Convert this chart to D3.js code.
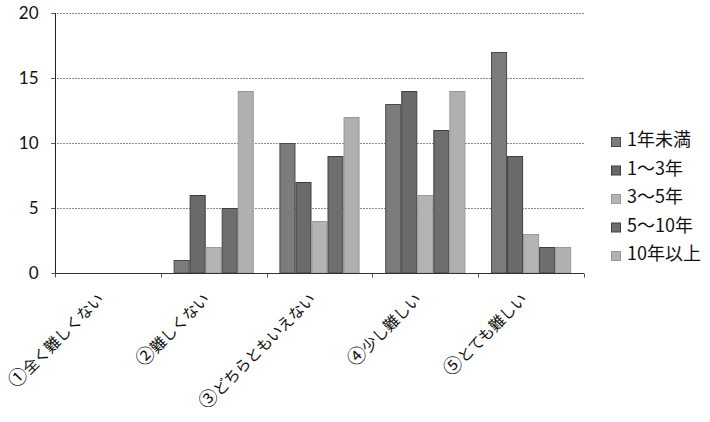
<!DOCTYPE html>
<html>
<head>
<meta charset="utf-8">
<script src="https://cdn.jsdelivr.net/npm/d3@7"></script>
<style>
  html, body { margin: 0; padding: 0; background: #fff; }
  svg { display: block; }
</style>
</head>
<body>
<svg id="chart" width="710" height="422"></svg>
<script>
// Answer categories (x axis)
const categories = ["①全く難しくない", "②難しくない", "③どちらともいえない", "④少し難しい", "⑤とても難しい"];
// Experience groups (legend)
const seriesNames = ["1年未満", "1～3年", "3～5年", "5～10年", "10年以上"];
// Counts per group, one array per series, in category order
const s1 = [0, 1, 10, 13, 17];
const s2 = [0, 6, 7, 14, 9];
const s3 = [0, 2, 4, 6, 3];
const s4 = [0, 5, 9, 11, 2];
const s5 = [0, 14, 12, 14, 2];
const seriesValues = [s1, s2, s3, s4, s5];
const yTicks = [0, 5, 10, 15, 20];

const fills = ["#7c7c7c", "#6a6a6a", "#b4b4b4", "#6e6e6e", "#b0b0b0"];
const strokes = ["#4a4a4a", "#3e3e3e", "#9a9a9a", "#404040", "#999999"];

const svg = d3.select("#chart");
const plot = { left: 55, right: 584, top: 13, bottom: 273 };

const x = d3.scaleBand().domain(categories).range([plot.left, plot.right]).paddingInner(0).paddingOuter(0);
const x1 = d3.scaleBand().domain(d3.range(seriesNames.length)).range([0, x.bandwidth()]).paddingOuter(0.8).paddingInner(0);
const y = d3.scaleLinear().domain([0, 20]).range([plot.bottom, plot.top]);

// Horizontal gridlines
svg.append("g")
  .selectAll("line")
  .data(yTicks.filter(t => t > 0))
  .join("line")
  .attr("x1", plot.left - 4).attr("x2", plot.right)
  .attr("y1", d => y(d) + 0.5).attr("y2", d => y(d) + 0.5)
  .attr("stroke", "#8c8c8c").attr("stroke-width", 1)
  .attr("stroke-dasharray", "2,1");

// Bars
const groups = svg.append("g")
  .selectAll("g")
  .data(categories)
  .join("g")
  .attr("transform", d => `translate(${x(d)},0)`);

groups.selectAll("rect")
  .data((c, ci) => seriesValues.map((vals, si) => ({ si, v: vals[ci] })))
  .join("rect")
  .filter(d => d.v > 0)
  .attr("x", d => x1(d.si) + 0.5)
  .attr("width", x1.bandwidth() - 1)
  .attr("y", d => y(d.v) + 0.5)
  .attr("height", d => y(0) - y(d.v) - 0.5)
  .attr("fill", d => fills[d.si])
  .attr("stroke", d => strokes[d.si])
  .attr("stroke-width", 1);

// Y axis
const yAxis = d3.axisLeft(y).tickValues(yTicks).tickSize(4).tickPadding(13);
const gy = svg.append("g").attr("transform", `translate(${plot.left + 0.5},0)`).call(yAxis);
gy.select(".domain").attr("stroke", "#222").attr("d", `M0,${plot.top}V${plot.bottom}`);
gy.selectAll(".tick line").attr("stroke", "#555");
gy.selectAll("text")
  .attr("font-family", "Lato, 'Open Sans', sans-serif")
  .attr("font-size", 17)
  .attr("fill", "#111");

// X axis with boundary ticks
const gx = svg.append("g").attr("transform", `translate(0,${plot.bottom + 0.5})`);
gx.append("line")
  .attr("x1", plot.left).attr("x2", plot.right)
  .attr("stroke", "#333").attr("stroke-width", 1);
const boundaries = categories.map(c => x(c)).concat([plot.right]);
gx.selectAll("line.tk")
  .data(boundaries)
  .join("line")
  .attr("class", "tk")
  .attr("x1", d => Math.round(d) + 0.5).attr("x2", d => Math.round(d) + 0.5)
  .attr("y1", 0).attr("y2", 4)
  .attr("stroke", "#555");

// Rotated category labels; the leading circled number is set a little larger
const labels = gx.selectAll("text")
  .data(categories)
  .join("text")
  .attr("transform", d => `translate(${x(d) + x.bandwidth() / 2 - 11},${19}) rotate(-45)`)
  .attr("text-anchor", "end")
  .attr("dy", "0.7em")
  .attr("font-family", "'Noto Sans CJK JP', sans-serif")
  .attr("font-size", 15.5)
  .attr("letter-spacing", -0.3)
  .attr("fill", "#111");
labels.append("tspan")
  .attr("font-size", 19)
  .text(d => d.slice(0, 1));
labels.append("tspan")
  .text(d => d.slice(1));

// Legend
const legend = svg.append("g").attr("transform", "translate(611,146)");
const rows = legend.selectAll("g")
  .data(seriesNames)
  .join("g")
  .attr("transform", (d, i) => `translate(0,${i * 28.5})`);
rows.append("rect")
  .attr("x", 0.5).attr("y", -8.5)
  .attr("width", 9).attr("height", 9)
  .attr("fill", (d, i) => fills[i])
  .attr("stroke", (d, i) => strokes[i]);
rows.append("text")
  .attr("x", 16).attr("y", 0)
  .attr("font-family", "'Noto Sans CJK JP', sans-serif")
  .attr("font-size", 18)
  .attr("fill", "#111")
  .text(d => d);
</script>
</body>
</html>
